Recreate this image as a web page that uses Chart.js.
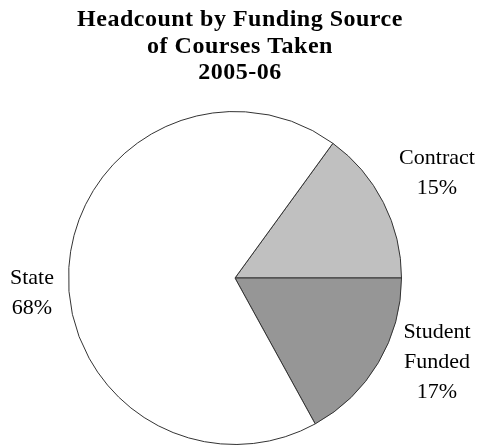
<!DOCTYPE html>
<html>
<head>
<meta charset="utf-8">
<script src="https://cdn.jsdelivr.net/npm/chart.js@4.4.0/dist/chart.umd.min.js"></script>
<style>
    html, body { margin: 0; padding: 0; background: #fff; }
    #wrap { width: 478px; height: 446px; position: relative; }
</style>
</head>
<body>
<div id="wrap"><canvas id="pieChart"></canvas></div>
<script>
'use strict';

const titleLines = ['Headcount by Funding Source', 'of Courses Taken', '2005-06'];
const categories = ['Contract', 'Student Funded', 'State'];
const shares = [15, 17, 68];
const labelLines = [['Contract', '15%'], ['Student', 'Funded', '17%'], ['State', '68%']];
const sliceColors = ['#c0c0c0', '#969696', '#ffffff'];

// where each label block sits (center x, first baseline)
const labelSpots = [[437, 164], [437, 338], [32, 284]];

const textPlugin = {
    id: 'pieText',
    afterDraw(chart) {
        const ctx = chart.ctx;
        ctx.save();
        ctx.fillStyle = '#000';
        ctx.textAlign = 'center';
        ctx.textBaseline = 'alphabetic';

        ctx.font = 'bold 24px "Liberation Serif", "Times New Roman", serif';
        ctx.letterSpacing = '0.5px';
        titleLines.forEach((line, i) => {
            ctx.fillText(line, 240, 26 + i * 26.5);
        });

        ctx.letterSpacing = '0px';
        ctx.font = '22px "Liberation Serif", "Times New Roman", serif';
        labelLines.forEach((lines, i) => {
            const [x, y] = labelSpots[i];
            lines.forEach((line, j) => {
                ctx.fillText(line, x, y + j * 30);
            });
        });
        ctx.restore();
    }
};

const ctx = document.getElementById('pieChart').getContext('2d');
new Chart(ctx, {
    type: 'pie',
    data: {
        labels: categories,
        datasets: [{
            data: shares,
            backgroundColor: sliceColors,
            borderColor: '#333333',
            borderWidth: 1
        }]
    },
    options: {
        responsive: true,
        maintainAspectRatio: false,
        animation: false,
        rotation: 36,
        layout: {
            padding: { top: 111, bottom: 1, left: 68, right: 76 }
        },
        plugins: {
            legend: { display: false },
            tooltip: { enabled: false }
        }
    },
    plugins: [textPlugin]
});
</script>
</body>
</html>
